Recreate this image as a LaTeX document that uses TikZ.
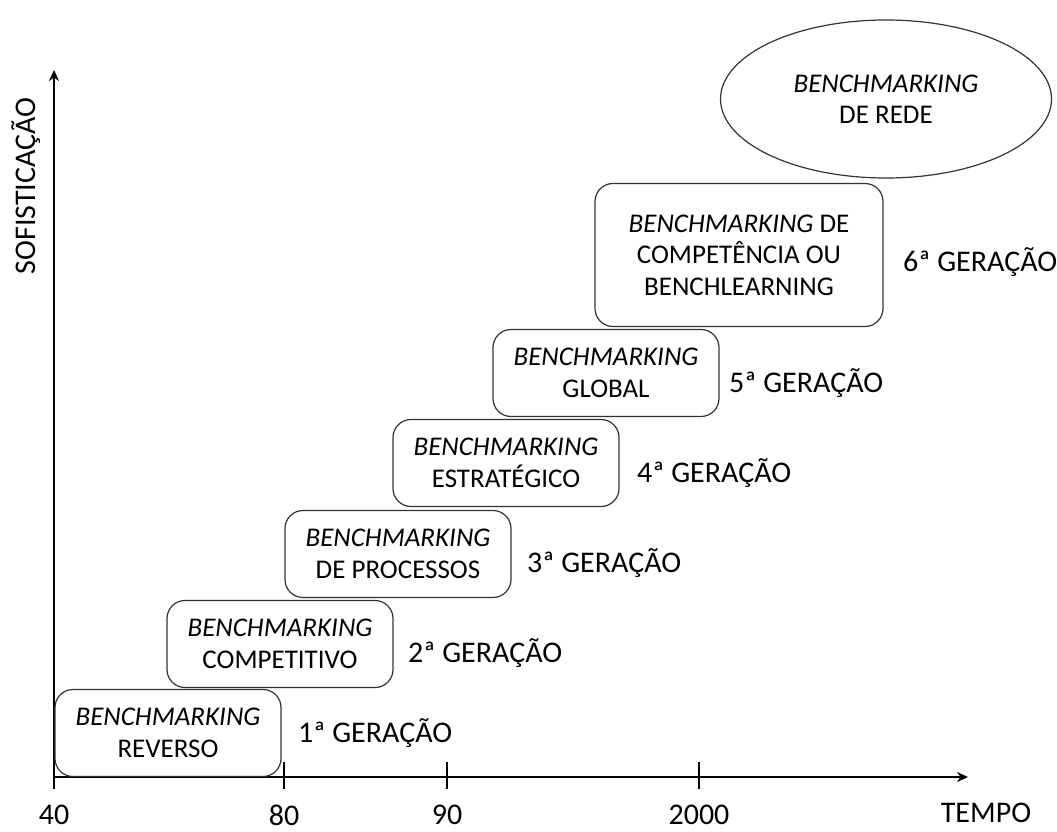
\documentclass[tikz,border=0pt]{standalone}
\usepackage{fontspec}
\setmainfont{Carlito}
\usetikzlibrary{arrows.meta,shapes.geometric}
\tikzset{
  etapa/.style={draw=black!80, line width=1.2pt, rounded corners=18pt, minimum width=226pt, minimum height=87pt, align=center, inner sep=0pt, font=\fontsize{27}{31.5}\selectfont},
  geracao/.style={anchor=west, inner sep=0pt, font=\fontsize{30}{34}\selectfont},
  rotulo/.style={inner sep=0pt, font=\fontsize{30}{34}\selectfont},
  eixo/.style={line width=2.6pt, -{Stealth[length=11pt,width=10pt]}},
  marca/.style={line width=1.3pt}
}
\begin{document}
\begin{tikzpicture}[x=1pt, y=-1pt]
    \useasboundingbox (0,0) rectangle (1057,832);
    % eixos
    \coordinate (o) at (54,777);
    \coordinate (topo) at (54,70);
    \coordinate (fim) at (968,777);
    \draw[eixo] (o)--(topo);
    \draw[eixo] (o)--(fim);
    \foreach \x/\lbl in {54/40, 284/80, 447/90, 699/2000} {
        \coordinate (t\lbl) at (\x,777);
        \draw[marca] ([yshift=-12pt]t\lbl)--([yshift=15pt]t\lbl);
        \node[rotulo] (n\lbl) at (\x,815) {\lbl};
    }
    \node[rotulo] (tempo) at (986,813) {TEMPO};
    \node[rotulo, rotate=90] (sofis) at (26,186) {SOFISTICAÇÃO};
    % geracoes
    \foreach \n/\x/\y/\txt in {1/168/733/REVERSO, 2/280/644/COMPETITIVO, 3/398/554/{DE PROCESSOS}, 4/506/463/ESTRATÉGICO, 5/606/373/GLOBAL}
        \node[etapa] (b\n) at (\x,\y) {\textit{BENCHMARKING}\\\txt};
    \node[etapa, minimum width=288pt, minimum height=143pt] (b6) at (739,255) {\textit{BENCHMARKING} DE\\COMPETÊNCIA OU\\BENCHLEARNING};
    \node[draw=black!80, line width=1.2pt, ellipse, minimum width=331pt, minimum height=158pt, align=center, inner sep=0pt, font=\fontsize{27}{30.5}\selectfont] (rede) at (886,99) {\textit{BENCHMARKING}\\DE REDE};
    \foreach \n/\x/\y in {1/298/733, 2/408/653, 3/527/563, 4/637/473, 5/729/383, 6/903/262}
        \node[geracao] (g\n) at (\x,\y) {\n ª GERAÇÃO};
\end{tikzpicture}
\end{document}
